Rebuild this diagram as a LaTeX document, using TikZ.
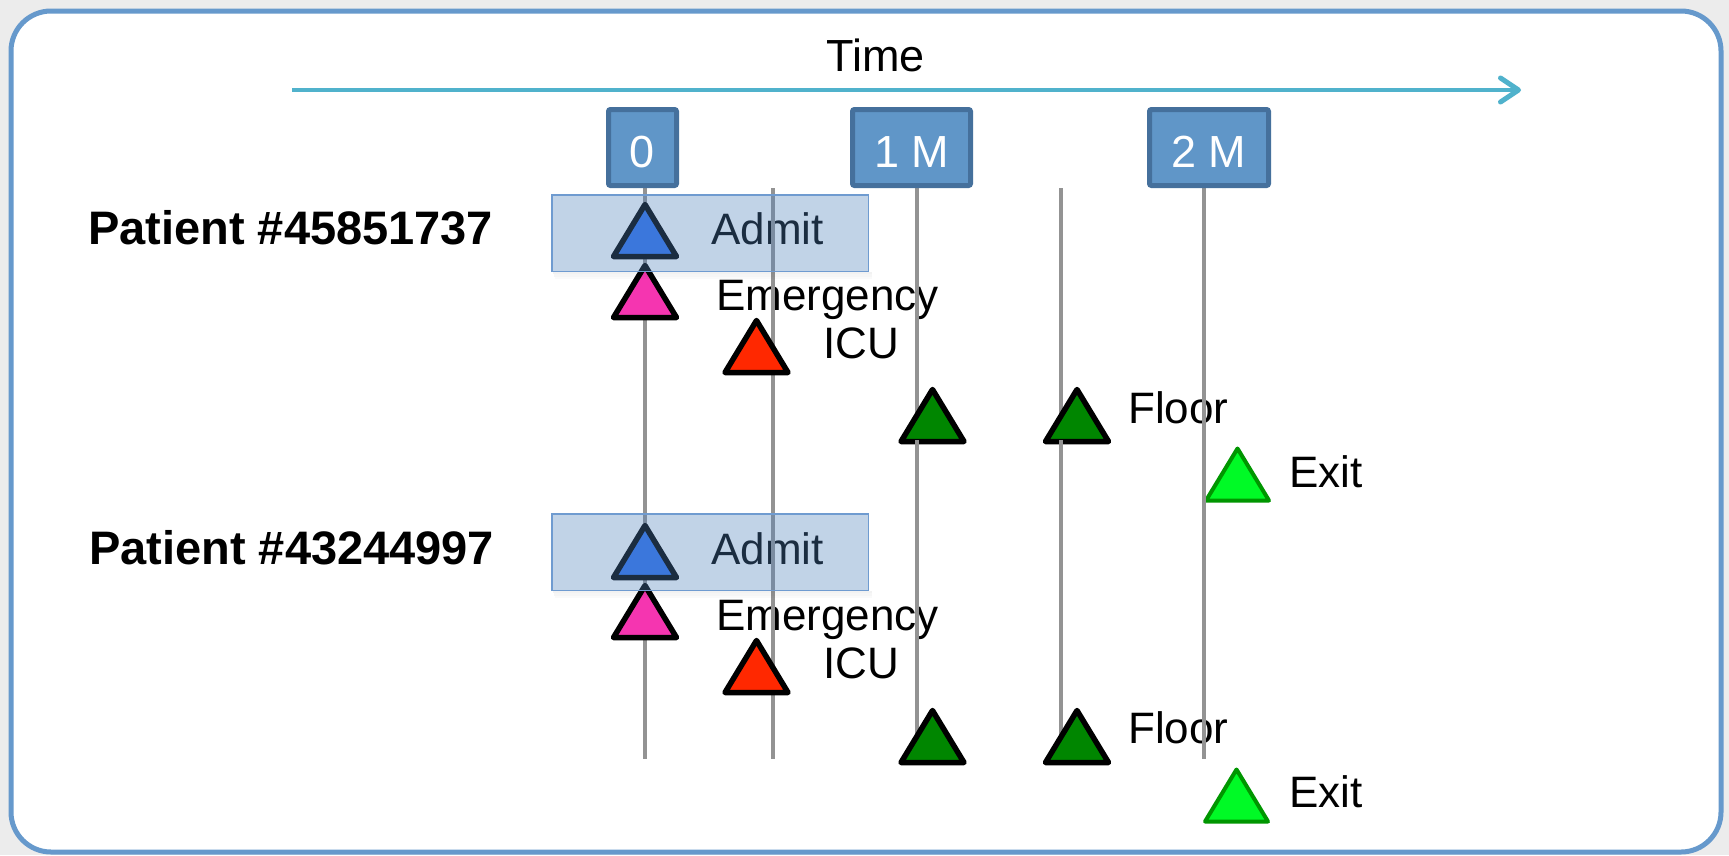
\documentclass[tikz,border=0pt]{standalone}
\usepackage{fontspec}
\setmainfont{Liberation Sans}
\usetikzlibrary{arrows.meta}
\definecolor{bggray}{RGB}{236,236,236}
\definecolor{framecol}{RGB}{102,153,204}
\definecolor{timecol}{RGB}{80,178,204}
\definecolor{boxfill}{RGB}{96,150,200}
\definecolor{boxline}{RGB}{69,112,156}
\definecolor{linegray}{RGB}{147,147,147}
\definecolor{admitfill}{RGB}{79,129,189}
\definecolor{admitline}{RGB}{111,155,208}
\definecolor{triblue}{RGB}{49,115,237}
\definecolor{tripink}{RGB}{245,53,176}
\definecolor{trired}{RGB}{255,40,0}
\definecolor{trigreen}{RGB}{0,134,0}
\definecolor{triexit}{RGB}{0,250,38}
\definecolor{exitline}{RGB}{0,150,0}
\newcommand\mytri[3]{\draw[#1] ({#2-31.5},{#3-2.5}) -- ({#2},{#3-54.5}) -- ({#2+31.5},{#3-2.5}) -- cycle;}
\begin{document}
\begin{tikzpicture}[x=1pt,y=-1pt,
  frame/.style={draw=framecol,line width=5pt,fill=white,rounded corners=40pt},
  timearrow/.style={draw=timecol,line width=3.3pt,-{Straight Barb[length=18pt,width=24pt,line width=5pt,round]}},
  evlbl/.style={anchor=base west,inner sep=0pt,font=\fontsize{44}{50}\selectfont},
  timelbl/.style={anchor=base west,inner sep=0pt,font=\fontsize{45}{50}\selectfont},
  patlbl/.style={anchor=base west,inner sep=0pt,font=\fontsize{47}{54}\selectfont\bfseries},
  tbox/.style={draw=boxline,fill=boxfill,line width=5pt,rounded corners=2pt,text=white,
    font=\fontsize{45}{50}\selectfont,minimum height=76pt,inner sep=0pt,text height=39pt,text depth=0pt},
  vline/.style={draw=linegray,line width=4.4pt},
  admitbox/.style={draw=admitline,line width=1.5pt,fill=admitfill,fill opacity=0.35,
    minimum width=316.5pt,minimum height=76.5pt,inner sep=0pt},
  tb/.style={draw=black,line width=5.5pt,line join=round,fill=triblue},
  tp/.style={draw=black,line width=5.5pt,line join=round,fill=tripink},
  tr/.style={draw=black,line width=5.5pt,line join=round,fill=trired},
  tg/.style={draw=black,line width=5.5pt,line join=round,fill=trigreen},
  te/.style={draw=exitline,line width=4pt,line join=round,fill=triexit}]
\useasboundingbox (0,0) rectangle (1729,855);
\fill[bggray] (0,0) rectangle (1729,855);
\draw[frame] (11,11) rectangle (1721,852);

% time axis
\node[timelbl] (time) at (826,71) {Time};
\coordinate (ts) at (292,90);
\coordinate (te) at (1521,90);
\draw[timearrow] (ts) -- (te);

% labels
\node[patlbl] (p1) at (88,244) {Patient \#45851737};
\node[patlbl] (p2) at (89,564) {Patient \#43244997};
\foreach \dy/\k in {0/1,320/2}{
  \node[evlbl] (admit\k) at (711,{244+\dy}) {Admit};
  \node[evlbl] (emerg\k) at (716,{310+\dy}) {Emergency};
  \node[evlbl] (icu\k) at (823,{358+\dy}) {ICU};
  \node[evlbl] (floor\k) at (1128,{423+\dy}) {Floor};
  \node[evlbl] (exit\k) at (1289,{487+\dy}) {Exit};
}

% vertical time lines (upper part)
\foreach \x/\k in {645/1,773/2,917/3,1061/4,1204/5}{
  \coordinate (lt\k) at (\x,188);
  \coordinate (lm\k) at (\x,455);
  \coordinate (ln\k) at (\x,440);
  \coordinate (lb\k) at (\x,759);
  \draw[vline] (lt\k) -- (lm\k);
}

% patient 1 events
\mytri{tb}{645}{259}
\mytri{tp}{645}{320}
\mytri{tr}{756.5}{375}
\mytri{tg}{932.5}{444}
\mytri{tg}{1077}{444}
\mytri{te}{1237.5}{503}

% vertical time lines (lower part)
\foreach \k in {1,...,5}{
  \draw[vline] (ln\k) -- (lb\k);
}

% patient 2 events
\mytri{tb}{645}{580}
\mytri{tp}{645}{640}
\mytri{tr}{756.5}{695}
\mytri{tg}{932.5}{765}
\mytri{tg}{1077}{765}
\mytri{te}{1236.5}{824}

% time boxes
\node[tbox,minimum width=68pt] (b0) at (642.5,147.5) {0};
\node[tbox,minimum width=118pt] (b1) at (911.5,147.5) {1 M};
\node[tbox,minimum width=119pt] (b2) at (1209,147.5) {2 M};

% admit highlight boxes with soft shadow
\foreach \dy/\k in {0/1,319/2}{
  \fill[black,opacity=0.05] (553,{272+\dy}) rectangle (872,{274+\dy});
  \fill[black,opacity=0.035] (554,{274+\dy}) rectangle (872,{276.5+\dy});
  \fill[black,opacity=0.02] (555,{276.5+\dy}) rectangle (872,{279+\dy});
  \node[admitbox] (abox\k) at (710,{233+\dy}) {};
}
\end{tikzpicture}
\end{document}
